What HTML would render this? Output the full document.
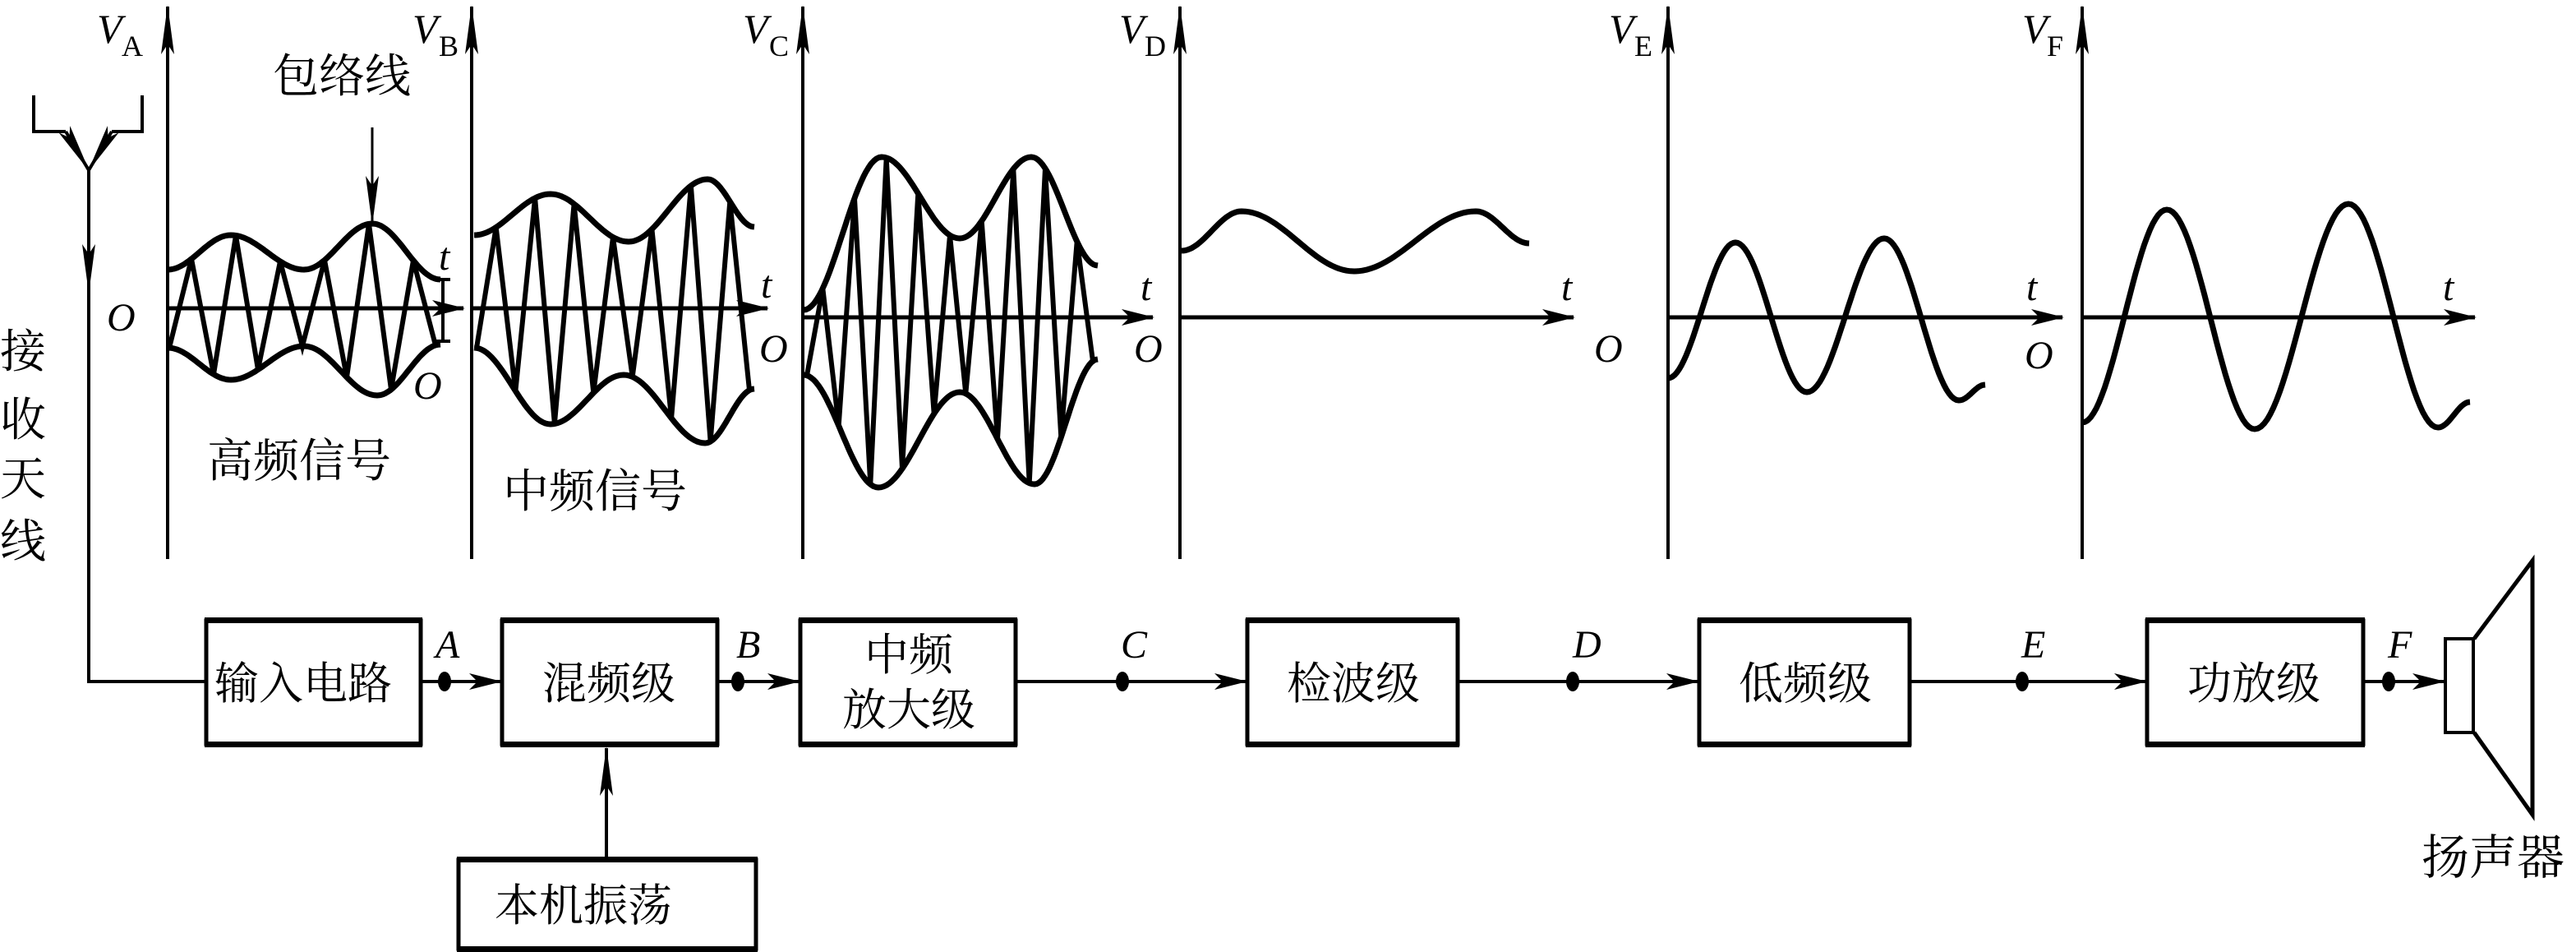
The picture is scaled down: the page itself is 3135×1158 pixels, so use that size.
<!DOCTYPE html>
<html><head><meta charset="utf-8"><style>
html,body{margin:0;padding:0;background:#fff;}
svg{display:block;}
.cj{font-family:"Liberation Serif","Noto Serif CJK SC","Noto Sans CJK SC",serif;fill:#000;}
.it{font-family:"Liberation Serif",serif;font-style:italic;fill:#000;}
.rm{font-family:"Liberation Serif",serif;fill:#000;}
</style></head><body>
<svg id="s" width="3135" height="1158" viewBox="0 0 3135 1158" xmlns="http://www.w3.org/2000/svg">
<defs>
<marker id="ar" viewBox="0 0 40 20" refX="38" refY="10" markerWidth="40" markerHeight="20" markerUnits="userSpaceOnUse" orient="auto">
<path d="M0,0 L40,10 L0,20 L10,10 Z" fill="#000"/></marker>
<marker id="ax" viewBox="0 0 60 20" refX="58" refY="10" markerWidth="60" markerHeight="20" markerUnits="userSpaceOnUse" orient="auto">
<path d="M0,2 L60,10 L0,18 L12,10 Z" fill="#000"/></marker>
</defs>
<g stroke="#000" stroke-width="4" fill="none">
<line x1="204" y1="680" x2="204" y2="8" marker-end="url(#ax)"/>
<line x1="574" y1="680" x2="574" y2="8" marker-end="url(#ax)"/>
<line x1="977" y1="680" x2="977" y2="8" marker-end="url(#ax)"/>
<line x1="1436" y1="680" x2="1436" y2="8" marker-end="url(#ax)"/>
<line x1="2030" y1="680" x2="2030" y2="8" marker-end="url(#ax)"/>
<line x1="2534" y1="680" x2="2534" y2="8" marker-end="url(#ax)"/>
<line x1="204" y1="375" x2="564" y2="375" stroke-width="5" marker-end="url(#ar)"/>
<line x1="574" y1="375" x2="934" y2="375" stroke-width="5" marker-end="url(#ar)"/>
<line x1="977" y1="386" x2="1403" y2="386" stroke-width="5" marker-end="url(#ar)"/>
<line x1="1436" y1="386" x2="1915" y2="386" stroke-width="5" marker-end="url(#ar)"/>
<line x1="2030" y1="386" x2="2510" y2="386" stroke-width="5" marker-end="url(#ar)"/>
<line x1="2534" y1="386" x2="3012" y2="386" stroke-width="5" marker-end="url(#ar)"/>
<line x1="539" y1="340" x2="539" y2="415"/><line x1="530" y1="340" x2="548" y2="340"/><line x1="530" y1="415" x2="548" y2="415"/>
<polyline points="41,116 41,160 80,160"/>
<polyline points="173,116 173,160 136,160"/>
<line x1="80" y1="160" x2="108" y2="207" marker-end="url(#ax)"/>
<line x1="136" y1="160" x2="108" y2="207" marker-end="url(#ax)"/>
<line x1="108" y1="207" x2="108" y2="355" marker-end="url(#ax)"/>
<polyline points="108,340 108,829 249,829"/>
<line x1="453" y1="155" x2="453" y2="272" stroke-width="3" marker-end="url(#ax)"/>
<line x1="514" y1="829" x2="609" y2="829" marker-end="url(#ar)"/>
<line x1="875" y1="829" x2="972" y2="829" marker-end="url(#ar)"/>
<line x1="1238" y1="829" x2="1516" y2="829" marker-end="url(#ar)"/>
<line x1="1776" y1="829" x2="2066" y2="829" marker-end="url(#ar)"/>
<line x1="2326" y1="829" x2="2611" y2="829" marker-end="url(#ar)"/>
<line x1="2878" y1="829" x2="2974" y2="829" marker-end="url(#ar)"/>
<line x1="738" y1="1043" x2="738" y2="910" marker-end="url(#ax)"/>
</g>
<g fill="#000">
<ellipse cx="541" cy="829" rx="8" ry="12"/><ellipse cx="898" cy="829" rx="8" ry="12"/>
<ellipse cx="1366" cy="829" rx="8" ry="12"/><ellipse cx="1914" cy="829" rx="8" ry="12"/>
<ellipse cx="2461" cy="829" rx="8" ry="12"/><ellipse cx="2907" cy="829" rx="8" ry="12"/>
</g>
<g fill="none" stroke="#000">
<g stroke-width="5">
<rect x="251" y="755" width="261" height="150"/>
<rect x="611" y="755" width="262" height="150"/>
<rect x="974" y="755" width="262" height="150"/>
<rect x="1518" y="755" width="256" height="150"/>
<rect x="2068" y="755" width="256" height="150"/>
<rect x="2613" y="755" width="263" height="150"/>
<rect x="558" y="1046" width="362" height="108"/>
</g>
<g stroke-width="4">
<rect x="2976" y="777" width="34" height="114"/>
<polyline points="3011,777 3082,682 3082,991 3011,891" stroke-width="5"/>
</g>
</g>
<g fill="#000">
<rect x="249" y="751" width="265" height="7"/><rect x="249" y="902" width="265" height="7"/>
<rect x="609" y="751" width="266" height="7"/><rect x="609" y="902" width="266" height="7"/>
<rect x="972" y="751" width="266" height="7"/><rect x="972" y="902" width="266" height="7"/>
<rect x="1516" y="751" width="260" height="7"/><rect x="1516" y="902" width="260" height="7"/>
<rect x="2066" y="751" width="260" height="7"/><rect x="2066" y="902" width="260" height="7"/>
<rect x="2611" y="751" width="267" height="7"/><rect x="2611" y="902" width="267" height="7"/>
<rect x="556" y="1042" width="366" height="7"/><rect x="556" y="1151" width="366" height="7"/>
</g>
<g id="waves" fill="none" stroke="#000" stroke-width="7" stroke-linejoin="round"></g>
<g id="carrier" fill="none" stroke="#000" stroke-width="6" stroke-linejoin="miter"></g>
<g class="cj" font-size="54">
<text x="261" y="850">输入电路</text>
<text x="660" y="850">混频级</text>
<text x="1052" y="815">中频</text>
<text x="1025" y="882">放大级</text>
<text x="1566" y="850">检波级</text>
<text x="2116" y="850">低频级</text>
<text x="2662" y="850">功放级</text>
<text x="602" y="1120">本机振荡</text>
<text x="2947" y="1063" font-size="58">扬声器</text>
<text x="332" y="112" font-size="56">包络线</text>
<text x="252" y="580" font-size="56">高频信号</text>
<text x="612" y="617" font-size="56">中频信号</text>
<text x="0" y="447" font-size="56">接</text>
<text x="0" y="530" font-size="56">收</text>
<text x="0" y="602" font-size="56">天</text>
<text x="0" y="678" font-size="56">线</text>
</g>
<g class="it" font-size="48">
<text x="530" y="800">A</text><text x="896" y="800">B</text><text x="1364" y="800">C</text>
<text x="1914" y="800">D</text><text x="2460" y="800">E</text><text x="2906" y="800">F</text>
<text x="130" y="402">O</text><text x="503" y="485">O</text><text x="924" y="440">O</text>
<text x="1380" y="440">O</text><text x="1940" y="440">O</text><text x="2464" y="448">O</text>
<text x="534" y="328">t</text><text x="926" y="362">t</text><text x="1388" y="365">t</text>
<text x="1900" y="365">t</text><text x="2466" y="365">t</text><text x="2973" y="365">t</text>
<text x="118" y="52" font-size="50">V</text><text x="502" y="52" font-size="50">V</text>
<text x="904" y="52" font-size="50">V</text><text x="1362" y="52" font-size="50">V</text>
<text x="1958" y="52" font-size="50">V</text><text x="2461" y="52" font-size="50">V</text>
</g>
<g class="rm" font-size="36">
<text x="148" y="68">A</text><text x="534" y="68">B</text><text x="936" y="68">C</text>
<text x="1393" y="68">D</text><text x="1989" y="68">E</text><text x="2491" y="68">F</text>
</g>
</svg>
<script>
(function(){
var NS="http://www.w3.org/2000/svg";
function cosPts(p){ // cosine interpolation between consecutive extrema
  var out=[p[0]];
  for(var i=0;i<p.length-1;i++){
    var a=p[i],b=p[i+1];
    for(var k=1;k<=30;k++){
      var t=k/30;
      out.push([a[0]+(b[0]-a[0])*t, a[1]+(b[1]-a[1])*(1-Math.cos(Math.PI*t))/2]);
    }
  }
  return out;
}
function yAt(s,x){
  for(var i=0;i<s.length-1;i++){
    if((s[i][0]-x)*(s[i+1][0]-x)<=0){var k=(x-s[i][0])/((s[i+1][0]-s[i][0])||1);return s[i][1]+k*(s[i+1][1]-s[i][1]);}
  }
  return s[s.length-1][1];
}
function toD(s){return "M"+s.map(function(q){return q[0].toFixed(1)+","+q[1].toFixed(1);}).join(" L");}
var W=document.getElementById("waves"),C=document.getElementById("carrier");
function path(g,d){var e=document.createElementNS(NS,"path");e.setAttribute("d",d);g.appendChild(e);}
var curves=[
 [[204,328],[281,286],[370,328],[453,272],[536,340]],
 [[204,423],[281,462],[370,421],[459,481],[536,419]],
 [[577,286],[670,236],[765,294],[861,218],[918,276]],
 [[577,423],[670,516],[759,456],[858,539],[918,473]],
 [[978,377],[1073,191],[1168,290],[1255,191],[1336,323]],
 [[978,456],[1069,593],[1168,477],[1259,589],[1336,437]],
 [[1438,305],[1511,257],[1648,330],[1796,257],[1861,296]],
 [[2030,460],[2112,295],[2199,477],[2293,290],[2384,487],[2416,468]],
 [[2534,514],[2637,255],[2744,522],[2858,248],[2967,520],[3006,489]]
];
var S=curves.map(cosPts);
S.forEach(function(s){path(W,toD(s));});
function zig(st,sb,x0,x1,n){
  var d="";
  for(var i=0;i<=n;i++){
    var x=x0+(x1-x0)*i/n;
    var y=(i%2==0)?yAt(sb,x):yAt(st,x);
    d+=(i==0?"M":" L")+x.toFixed(1)+","+y.toFixed(1);
  }
  path(C,d);
}
zig(S[0],S[1],206,530,12);
zig(S[2],S[3],580,912,14);
zig(S[4],S[5],982,1330,18);
})();
</script>
</body></html>
